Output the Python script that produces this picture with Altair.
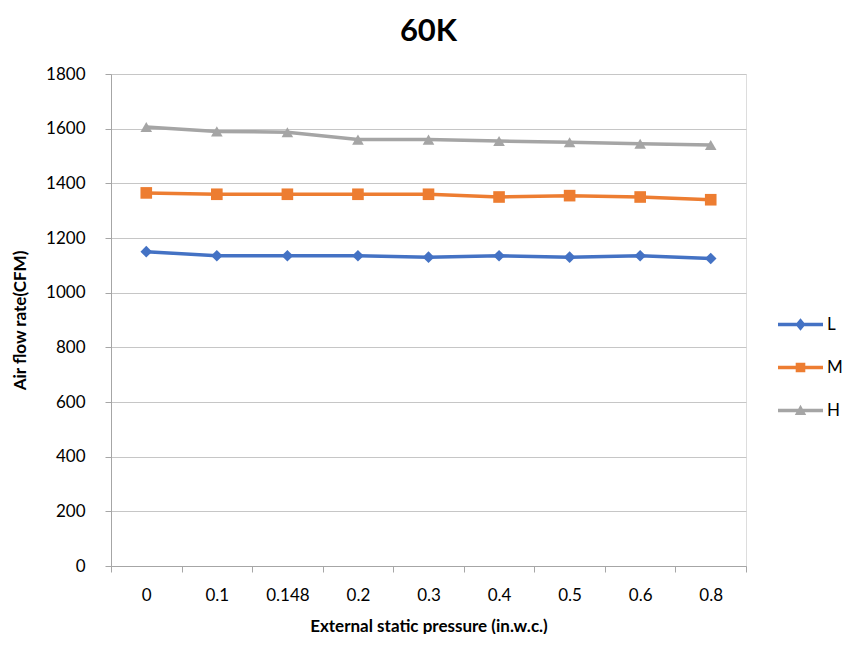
import altair as alt
import pandas as pd

pressure = ["0", "0.1", "0.148", "0.2", "0.3", "0.4", "0.5", "0.6", "0.8"]
series_names = ["L", "M", "H"]
L_vals = [1150, 1135, 1135, 1135, 1130, 1135, 1130, 1135, 1125]
M_vals = [1365, 1360, 1360, 1360, 1360, 1350, 1355, 1350, 1340]
H_vals = [1606, 1590, 1587, 1560, 1560, 1555, 1550, 1545, 1540]

colors = ["#4472C4", "#ED7D31", "#A5A5A5"]
shapes = ["diamond", "square", "triangle-up"]

rows = []
for name, vals in zip(series_names, [L_vals, M_vals, H_vals]):
    for p, v in zip(pressure, vals):
        rows.append({"pressure": p, "series": name, "flow": v})
df = pd.DataFrame(rows)

FONT = "Lato"

line_part = "M-3.75,-0.29H3.75V0.29H-3.75Z"
leg_paths = [
    line_part + "M0,-1.05L0.85,0L0,1.05L-0.85,0Z",
    line_part + "M-0.8,-0.8H0.8V0.8H-0.8Z",
    line_part + "M0,-0.95L0.95,0.75H-0.95Z",
]

x_enc = alt.X(
    "pressure:O",
    sort=pressure,
    scale=alt.Scale(type="band", paddingInner=0, paddingOuter=0),
    axis=alt.Axis(
        title="External static pressure (in.w.c.)",
        labelAngle=0,
        tickBand="extent",
        grid=False,
        domainColor="#a6a6a6",
        tickColor="#a6a6a6",
        tickSize=6,
        labelPadding=15,
        labelFontSize=17,
        labelColor="#000000",
        labelFont=FONT,
        titleFont=FONT,
        titleFontSize=17,
        titleFontWeight="bold",
        titleColor="#000000",
        titlePadding=15,
    ),
)
y_enc = alt.Y(
    "flow:Q",
    scale=alt.Scale(domain=[0, 1800]),
    axis=alt.Axis(
        title="Air flow rate(CFM)",
        values=list(range(0, 1801, 200)),
        format="d",
        grid=True,
        gridColor="#c6c6c6",
        domainColor="#a6a6a6",
        tickColor="#a6a6a6",
        tickSize=6,
        labelPadding=20,
        labelFontSize=17,
        labelColor="#000000",
        labelFont=FONT,
        titleFont=FONT,
        titleFontSize=17,
        titleFontWeight="bold",
        titleColor="#000000",
        titlePadding=16,
    ),
)

layers = []
for i, (name, col, shp, path) in enumerate(zip(series_names, colors, shapes, leg_paths)):
    sub = alt.Chart(df).transform_filter(alt.datum.series == name)
    layers.append(
        sub.mark_line(strokeWidth=3.5, color=col).encode(x=x_enc, y=y_enc)
    )
    legend = alt.Legend(
        title=None,
        orient="none",
        legendX=681,
        legendY=242 + 43 * i,
        padding=0,
        symbolSize=144,
        symbolType=path,
        symbolStrokeWidth=0,
        labelFontSize=17,
        labelFont=FONT,
        labelColor="#000000",
        labelOffset=18,
    )
    layers.append(
        sub.mark_point(filled=True, opacity=1, size=135, shape=shp).encode(
            x=x_enc,
            y=y_enc,
            color=alt.Color("series:N", scale=alt.Scale(domain=[name], range=[col]), legend=legend),
        )
    )

chart = (
    alt.layer(*layers)
    .resolve_scale(color="independent")
    .resolve_legend(color="independent")
    .properties(
        width=635,
        height=492,
        title=alt.TitleParams("60K", fontSize=31, fontWeight="bold", font=FONT, color="#000000", offset=17),
        autosize=alt.AutoSizeParams(type="none"),
        padding={"left": 103, "top": 66, "right": 97, "bottom": 68},
    )
    .configure_view(stroke=None)
    .configure(background="white")
)

chart.save("out.html", embed_options={"renderer": "svg", "actions": False})
